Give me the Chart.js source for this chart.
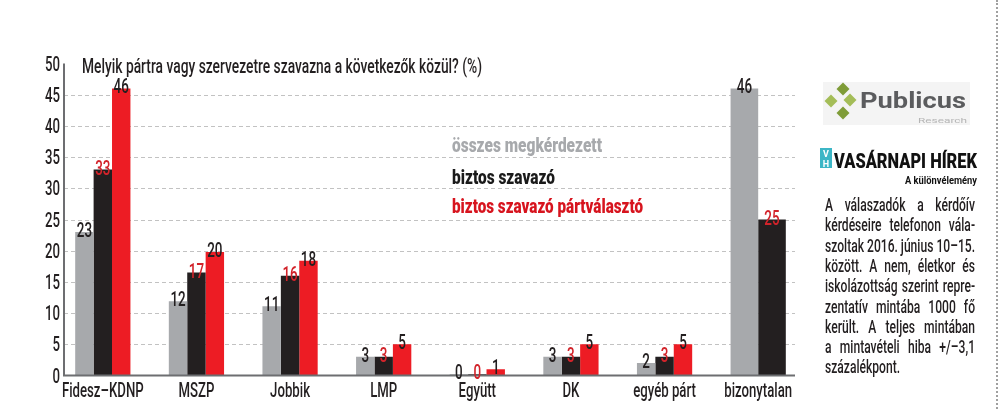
<!DOCTYPE html>
<html>
<head>
<meta charset="utf-8">
<script src="https://cdn.jsdelivr.net/npm/chart.js@4"></script>
<style>
  html, body { margin: 0; padding: 0; background: #fff; }
  #wrap { position: relative; width: 1000px; height: 409px; overflow: hidden; }
  #chart { position: absolute; left: 0; top: 0; }
  .dots { position: absolute; left: 996px; top: 0; width: 0; height: 409px; border-left: 2px dotted #a0a0a0; }
</style>
</head>
<body>
<div id="wrap">
  <canvas id="chart" width="1000" height="409"></canvas>
  <div class="dots"></div>
</div>
<script>
const categories = ['Fidesz–KDNP', 'MSZP', 'Jobbik', 'LMP', 'Együtt', 'DK', 'egyéb párt', 'bizonytalan'];
const seriesNames = ['összes megkérdezett', 'biztos szavazó', 'biztos szavazó pártválasztó'];
const osszes = [23, 11.9, 11.1, 3, 0.2, 3, 2, 46];
const biztos = [33, 16.5, 16, 3, 0.2, 3, 3, 25];
const partvalaszto = [46, 19.8, 18.4, 5, 1, 5, 5, null];
const yTicks = [0, 5, 10, 15, 20, 25, 30, 35, 40, 45, 50];
const chartTitle = 'Melyik pártra vagy szervezetre szavazna a következők közül? (%)';
const noteLines = [
  'A válaszadók a kérdőív',
  'kérdéseire telefonon vála-',
  'szoltak 2016. június 10–15.',
  'között. A nem, életkor és',
  'iskolázottság szerint repre-',
  'zentatív mintába 1000 fő',
  'került. A teljes mintában',
  'a mintavételi hiba +/–3,1',
  'százalékpont.'
];

const FONT = 'Roboto, "Liberation Sans", sans-serif';
const barColors = ['#a7a9ac', '#231f20', '#ed1c24'];
const labelColors = ['#231f20', '#d2232a', '#231f20'];
const legendColors = ['#a7a9ac', '#1a1a1a', '#d7141e'];

function txt(ctx, s, x, y, font, color, align, sx) {
  ctx.save();
  ctx.font = font;
  ctx.fillStyle = color;
  ctx.textAlign = align;
  ctx.textBaseline = 'alphabetic';
  ctx.translate(x, y);
  ctx.scale(sx, 1);
  ctx.fillText(s, 0, 0);
  ctx.restore();
}
function fit(ctx, s, x, y, width, font, color) {
  ctx.save();
  ctx.font = font;
  const w = ctx.measureText(s).width;
  ctx.restore();
  txt(ctx, s, x, y, font, color, 'left', width / w);
}
function justify(ctx, s, x, y, width, font, color, sx) {
  ctx.save();
  ctx.font = font;
  const words = s.split(' ');
  const ws = words.map(w => ctx.measureText(w).width * sx);
  const total = ws.reduce((a, b) => a + b, 0);
  const gap = words.length > 1 ? (width - total) / (words.length - 1) : 0;
  ctx.restore();
  let cx = x;
  words.forEach((w, i) => { txt(ctx, w, cx, y, font, color, 'left', sx); cx += ws[i] + gap; });
}
function diamond(ctx, cx, cy, r, color) {
  ctx.fillStyle = color;
  ctx.beginPath();
  ctx.moveTo(cx, cy - r); ctx.lineTo(cx + r, cy); ctx.lineTo(cx, cy + r); ctx.lineTo(cx - r, cy);
  ctx.closePath(); ctx.fill();
}

const decor = {
  id: 'decor',
  beforeDatasetsDraw(chart) {
    const { ctx, scales: { y } } = chart;
    ctx.save();
    ctx.strokeStyle = '#c2c2c2';
    ctx.lineWidth = 1;
    ctx.setLineDash([4, 3]);
    yTicks.forEach(v => {
      if (v === 0 || v === 50) return;
      const py = Math.round(y.getPixelForValue(v)) + 0.5;
      ctx.beginPath(); ctx.moveTo(64, py); ctx.lineTo(795, py); ctx.stroke();
    });
    ctx.restore();
    // legend text over the grid
    const lf = '900 20px ' + FONT;
    fit(ctx, seriesNames[0], 452, 152, 150, lf, legendColors[0]);
    fit(ctx, seriesNames[1], 452, 184, 103, lf, legendColors[1]);
    fit(ctx, seriesNames[2], 452, 213, 191, lf, legendColors[2]);
  },
  afterDatasetsDraw(chart) {
    const { ctx, scales: { x, y } } = chart;
    ctx.save();
    ctx.strokeStyle = '#6d6e71';
    ctx.lineWidth = 2;
    ctx.beginPath();
    ctx.moveTo(64, y.getPixelForValue(50));
    ctx.lineTo(64, y.getPixelForValue(0));
    ctx.lineTo(795, y.getPixelForValue(0));
    ctx.stroke();
    ctx.restore();
    // y tick labels
    yTicks.forEach(v => txt(ctx, String(v), 60, y.getPixelForValue(v) + 7, '500 20px ' + FONT, '#231f20', 'right', 0.66));
    // category labels
    categories.forEach((c, i) => txt(ctx, c, x.getPixelForValue(i), 397, '500 20px ' + FONT, '#231f20', 'center', 0.66));
    // value labels
    chart.data.datasets.forEach((ds, di) => {
      chart.getDatasetMeta(di).data.forEach((bar, i) => {
        const v = ds.data[i];
        if (v === null || v === undefined) return;
        txt(ctx, String(Math.round(v)), bar.x, bar.y + 5, '500 21px ' + FONT, labelColors[di], 'center', 0.64);
      });
    });
    // title
    fit(ctx, chartTitle, 82, 73, 400, '500 21px ' + FONT, '#231f20');
  },
  afterDraw(chart) {
    const { ctx } = chart;
    // Publicus logo
    ctx.save();
    ctx.fillStyle = '#f4f4f4';
    ctx.fillRect(823, 82, 147, 43);
    diamond(ctx, 843, 89, 6.5, '#7f9c38');
    diamond(ctx, 831, 101, 6.5, '#a4bd58');
    diamond(ctx, 850, 100, 6.5, '#a4bd58');
    diamond(ctx, 843, 113, 6.5, '#7f9c38');
    ctx.restore();
    fit(ctx, 'Publicus', 860, 108, 106, 'bold 22px ' + FONT, '#5b5c5e');
    fit(ctx, 'Research', 918, 123, 49, '8px ' + FONT, '#b5b5b5');
    // Vasárnapi Hírek
    ctx.save();
    ctx.fillStyle = '#3cb6c6';
    ctx.fillRect(820, 148, 12, 20);
    ctx.restore();
    txt(ctx, 'V', 826, 157, 'bold 9px ' + FONT, '#ffffff', 'center', 1);
    txt(ctx, 'H', 826, 167, 'bold 9px ' + FONT, '#ffffff', 'center', 1);
    fit(ctx, 'VASÁRNAPI HÍREK', 834, 168, 143, '900 21px ' + FONT, '#111111');
    fit(ctx, 'A különvélemény', 905, 184, 72, 'bold 10px ' + FONT, '#111111');
    // note paragraph
    const nf = '500 18px ' + FONT;
    ctx.save();
    ctx.font = nf;
    const maxW = Math.max(...noteLines.map(l => ctx.measureText(l).width));
    ctx.restore();
    const sx = 150 / maxW;
    noteLines.forEach((l, i) => {
      const by = 211 + i * 20.3;
      if (i === noteLines.length - 1) txt(ctx, l, 825, by, nf, '#231f20', 'left', sx);
      else justify(ctx, l, 825, by, 150, nf, '#231f20', sx);
    });
  }
};

new Chart(document.getElementById('chart'), {
  type: 'bar',
  data: {
    labels: categories,
    datasets: [osszes, biztos, partvalaszto].map((d, i) => ({
      label: seriesNames[i],
      data: d,
      backgroundColor: barColors[i],
      borderWidth: 0,
      categoryPercentage: 0.59,
      barPercentage: 1.0,
      skipNull: true
    }))
  },
  options: {
    responsive: false,
    animation: false,
    layout: { padding: { top: 63.5, right: 195, bottom: 0, left: 0 } },
    plugins: { legend: { display: false }, tooltip: { enabled: false }, title: { display: false } },
    scales: {
      x: {
        offset: true,
        grid: { display: false, drawTicks: false },
        border: { display: false },
        ticks: { display: false },
        afterFit(s) { s.height = 33.5; }
      },
      y: {
        min: 0, max: 50,
        grid: { display: false, drawTicks: false },
        border: { display: false },
        ticks: { display: false, stepSize: 5 },
        afterFit(s) { s.width = 56; }
      }
    }
  },
  plugins: [decor]
});
</script>
</body>
</html>
